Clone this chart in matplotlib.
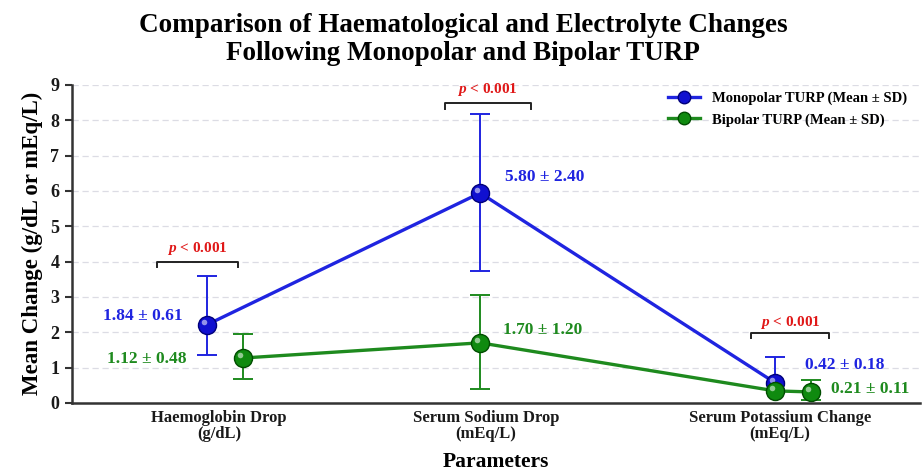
import numpy as np
import matplotlib
matplotlib.use("Agg")
import matplotlib.pyplot as plt
from matplotlib.transforms import ScaledTranslation
from matplotlib.lines import Line2D

plt.rcParams['font.family'] = ['Liberation Serif', 'DejaVu Serif']
plt.rcParams['mathtext.fontset'] = 'custom'
plt.rcParams['mathtext.it'] = 'Liberation Serif:italic:bold'
plt.rcParams['mathtext.rm'] = 'Liberation Serif:bold'
plt.rcParams['mathtext.bf'] = 'Liberation Serif:bold'

# ---- data ----
categories = ["Haemoglobin Drop\n(g/dL)", "Serum Sodium Drop\n(mEq/L)", "Serum Potassium Change\n(mEq/L)"]
cat_pos = [0.0, 1.0, 2.1]

mono_x = [-0.045, 0.978, 2.082]
mono_y = [2.21, 5.94, 0.57]
mono_lo = [1.36, 3.74, 0.40]
mono_hi = [3.59, 8.18, 1.30]

bip_x = [0.09, 0.978, 2.082, 2.217]
bip_y = [1.27, 1.70, 0.34, 0.31]
bip_lo = [0.68, 0.40, np.nan, 0.08]
bip_hi = [1.95, 3.06, np.nan, 0.65]

mono_labels = ["1.84 ± 0.61", "5.80 ± 2.40", "0.42 ± 0.18"]
bip_labels = ["1.12 ± 0.48", "1.70 ± 1.20", "0.21 ± 0.11"]
p_labels = [r"$p$ < 0.001", r"$p$ < 0.001", r"$p$ < 0.001"]

BLUE = "#1f24e0"
GREEN = "#1e8a1e"

fig = plt.figure(figsize=(9.22, 4.74), dpi=100)
ax = fig.add_axes([0.078, 0.15, 0.92, 0.671])
ax.set_xlim(-0.55, 2.625)
ax.set_ylim(0, 9)

ax.yaxis.grid(True, linestyle=(0, (5, 3)), color="#dcdce4", linewidth=0.9)
ax.set_axisbelow(True)
for s in ["top", "right"]:
    ax.spines[s].set_visible(False)
for s in ["left", "bottom"]:
    ax.spines[s].set_color("#333333")
    ax.spines[s].set_linewidth(1.8)

def sphere(x, y, color, dark, z):
    ax.plot(x, y, 'o', ms=13, mfc=color, mec=dark, mew=1.0, zorder=z)
    off = ScaledTranslation(-2.3/72, 2.3/72, fig.dpi_scale_trans)
    ax.plot(x, y, 'o', ms=4, mfc="white", mec="none", alpha=0.55, zorder=z + 0.1,
            transform=ax.transData + off)

# monopolar
m_err = np.array([np.array(mono_y) - np.array(mono_lo), np.array(mono_hi) - np.array(mono_y)])
ax.errorbar(mono_x, mono_y, yerr=m_err, fmt='none', ecolor=BLUE, elinewidth=1.4,
            capsize=7, capthick=1.4, zorder=3)
ax.plot(mono_x, mono_y, '-', color=BLUE, lw=2.4, zorder=4)
sphere(mono_x, mono_y, "#1010d0", "#00007a", 5)

# bipolar
b_y = np.array(bip_y)
b_err = np.array([b_y - np.array(bip_lo), np.array(bip_hi) - b_y])
ax.errorbar(bip_x, bip_y, yerr=b_err, fmt='none', ecolor=GREEN, elinewidth=1.4,
            capsize=7, capthick=1.4, zorder=6)
ax.plot(bip_x, bip_y, '-', color=GREEN, lw=2.4, zorder=7)
sphere(bip_x, bip_y, "#0f8a0f", "#004d00", 8)

# value labels
fs_lab = 12.5
ax.text(-0.135, 2.45, mono_labels[0], color=BLUE, fontsize=fs_lab, fontweight='bold', ha='right', va='center')
ax.text(-0.12, 1.25, bip_labels[0], color=GREEN, fontsize=fs_lab, fontweight='bold', ha='right', va='center')
ax.text(1.07, 6.4, mono_labels[1], color=BLUE, fontsize=fs_lab, fontweight='bold', ha='left', va='center')
ax.text(1.065, 2.07, bip_labels[1], color=GREEN, fontsize=fs_lab, fontweight='bold', ha='left', va='center')
ax.text(2.195, 1.08, mono_labels[2], color=BLUE, fontsize=fs_lab, fontweight='bold', ha='left', va='center')
ax.text(2.29, 0.40, bip_labels[2], color=GREEN, fontsize=fs_lab, fontweight='bold', ha='left', va='center')

# significance brackets
brackets = [(-0.23, 0.072, 4.0, 3.85, 4.38), (0.845, 1.167, 8.5, 8.33, 8.88), (1.992, 2.285, 1.98, 1.83, 2.28)]
for (x0, x1, yb, yl, yt), pl in zip(brackets, p_labels):
    ax.plot([x0, x0, x1, x1], [yl, yb, yb, yl], color="#222222", lw=1.4, zorder=9)
    ax.text((x0 + x1) / 2, yt, pl, color="#e01818", fontsize=11,
            fontweight='bold', ha='center', va='center')

ax.set_xticks(cat_pos)
ax.set_xticklabels(categories, fontsize=12, fontweight='bold', color="#1a1a1a", linespacing=1.05)
ax.tick_params(axis='x', length=0, pad=5)
ax.set_yticks(range(0, 10))
ax.set_yticklabels([str(i) for i in range(0, 10)], fontsize=13, fontweight='bold', color="#1a1a1a")
ax.tick_params(axis='y', length=5, width=1.5, color="#333333", pad=4)

ax.set_ylabel("Mean Change (g/dL or mEq/L)", fontsize=16.5, fontweight='bold', labelpad=5)
ax.set_xlabel("Parameters", fontsize=15.5, fontweight='bold', labelpad=7)

fig.suptitle("Comparison of Haematological and Electrolyte Changes\nFollowing Monopolar and Bipolar TURP",
             fontsize=19.5, fontweight='bold', x=0.502, y=0.972, linespacing=1.15)

# legend
h1 = Line2D([], [], color=BLUE, lw=2.4, marker='o', ms=9, mfc="#1010d0", mec="#00007a")
h2 = Line2D([], [], color=GREEN, lw=2.4, marker='o', ms=9, mfc="#0f8a0f", mec="#004d00")
leg = ax.legend([h1, h2], ["Monopolar TURP (Mean ± SD)", "Bipolar TURP (Mean ± SD)"],
                loc='upper right', bbox_to_anchor=(1.0, 1.02), frameon=False,
                prop={'weight': 'bold', 'size': 10.5}, handlelength=2.2, labelspacing=0.55)

fig.savefig("out.png", dpi=100)
